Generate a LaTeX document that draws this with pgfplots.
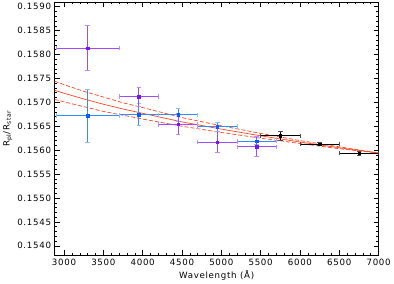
\documentclass[border=0pt]{standalone}
\usepackage{pgfplots}
\pgfplotsset{compat=1.18}
\usepackage{fontspec}
\setmainfont{DejaVu Sans}[LetterSpace=8]
\definecolor{purpPt}{RGB}{125,20,235}
\definecolor{purpBar}{RGB}{155,75,250}
\definecolor{purpCap}{RGB}{190,140,255}
\definecolor{bluePt}{RGB}{10,90,255}
\definecolor{blueBar}{RGB}{50,140,255}
\definecolor{blueCap}{RGB}{140,190,255}
\definecolor{redL}{RGB}{255,70,35}
\begin{document}
\begin{tikzpicture}
\begin{axis}[
  scale only axis,
  width=322pt, height=252pt,
  xmin=2880, xmax=7000,
  ymin=0.1538, ymax=0.1591,
  xtick={3000,3500,...,7000},
  ytick={0.1540,0.1545,...,0.1590},
  minor x tick num=4, minor y tick num=4,
  major tick length=5pt, minor tick length=2.5pt,
  scaled y ticks=false, scaled x ticks=false,
  /pgf/number format/assume math mode=true,
  yticklabel style={/pgf/number format/.cd,fixed,fixed zerofill,precision=4},
  xticklabel style={/pgf/number format/.cd,fixed,set thousands separator={}},
  tick label style={font=\fontsize{8.6}{10}\selectfont},
  label style={font=\fontsize{8.6}{10}\selectfont},
  xlabel={Wavelength (Å)},
  ylabel={R\textsubscript{pl}/R\textsubscript{star}},
  xlabel style={yshift=2pt},
  ylabel style={yshift=-2pt},
  axis line style={line width=0.6pt},
  every tick/.style={black,line width=0.5pt},
  error bars/error bar style={line width=0.8pt},
  error bars/error mark options={rotate=90,mark size=2.2pt,line width=0.8pt},
]
% model curves
\addplot[redL, line width=0.7pt, no marks] coordinates {
(2880,0.15725)(3000,0.15719)(3250,0.15707)(3500,0.15696)(3750,0.15686)(4000,0.15677)
(4500,0.15659)(5000,0.15644)(5500,0.15630)(6000,0.15617)(6500,0.15605)(7000,0.15594)};
\addplot[redL, line width=0.7pt, dash pattern=on 4pt off 2pt, no marks] coordinates {
(2880,0.15744)(3000,0.15737)(3250,0.15723)(3500,0.15711)(3750,0.15699)(4000,0.15689)
(4500,0.15668)(5000,0.15651)(5500,0.15635)(6000,0.15620)(6500,0.15607)(7000,0.15594)};
\addplot[redL, line width=0.7pt, dash pattern=on 4pt off 2pt, no marks] coordinates {
(2880,0.15706)(3000,0.15701)(3250,0.15691)(3500,0.15681)(3750,0.15673)(4000,0.15665)
(4500,0.15650)(5000,0.15637)(5500,0.15625)(6000,0.15614)(6500,0.15603)(7000,0.15594)};
% blue
\addplot[only marks, mark=square*, mark size=1.2pt, color=bluePt,
  error bars/.cd, x dir=both, x explicit, y dir=both, y explicit,
  error bar style={color=blueBar}, error mark options={rotate=90,mark size=2.2pt,color=blueCap,line width=0.8pt}]
  coordinates {
  (3300,0.15672) +- (400,0.00056)
  (3950,0.15674) +- (250,0.00023)
  (4450,0.15674) +- (250,0.00014)
  (4950,0.15649) +- (250,0.00010)
  (5450,0.15619) +- (250,0.00008)
};
% purple
\addplot[only marks, mark=square*, mark size=1.2pt, color=purpPt,
  error bars/.cd, x dir=both, x explicit, y dir=both, y explicit,
  error bar style={color=purpBar}, error mark options={rotate=90,mark size=2.2pt,color=purpCap,line width=0.8pt}]
  coordinates {
  (3300,0.15813) +- (400,0.00047)
  (3950,0.15712) +- (250,0.00020)
  (4450,0.15654) +- (250,0.00022)
  (4950,0.15617) +- (250,0.00022)
  (5450,0.15607) +- (250,0.00021)
};
% black
\addplot[only marks, mark=square*, mark size=1.2pt, color=black,
  error bars/.cd, x dir=both, x explicit, y dir=both, y explicit,
  error bar style={color=black}, error mark options={rotate=90,mark size=2.2pt,color=black!70,line width=0.8pt}]
  coordinates {
  (5750,0.15630) +- (250,0.00010)
  (6250,0.15613) +- (250,0.00004)
  (6750,0.15594) +- (250,0.00004)
};
\end{axis}
\end{tikzpicture}
\end{document}
